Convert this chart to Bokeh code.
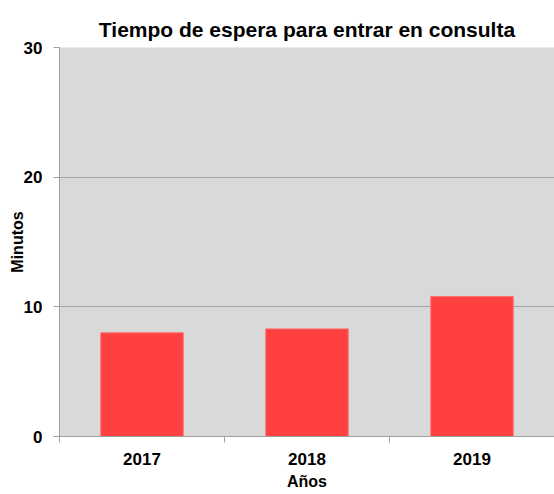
from bokeh.plotting import figure
from bokeh.models import FixedTicker, Range1d, ColumnDataSource
from bokeh.embed import file_html
from bokeh.resources import INLINE

years = ["2017", "2018", "2019"]
minutes = [8.0, 8.3, 10.8]
y_ticks = [0, 10, 20, 30]

xpos = [i + 0.5 for i in range(len(years))]
src = ColumnDataSource(dict(x=xpos, top=minutes))

FONT = "Liberation Sans"

p = figure(width=554, height=494, output_backend="svg", toolbar_location=None,
           x_range=Range1d(0, len(years)), y_range=Range1d(0, 30),
           title="Tiempo de espera para entrar en consulta",
           min_border_left=59, min_border_right=0, min_border_top=47, min_border_bottom=58)
p.outline_line_color = None
p.background_fill_color = "#D9D9D9"
p.border_fill_color = "white"

p.title.text_font = FONT
p.title.text_font_size = "21px"
p.title.text_font_style = "bold"
p.title.align = "center"
p.title.text_color = "black"
p.title.standoff = 14

p.vbar(x="x", top="top", width=0.5, source=src, fill_color="#FF4040", line_color="#FF7070", line_width=1)

# y axis
p.yaxis.ticker = FixedTicker(ticks=y_ticks)
p.yaxis.axis_label = "Minutos"
p.yaxis.axis_label_text_font = FONT
p.yaxis.axis_label_text_font_style = "bold"
p.yaxis.axis_label_text_font_size = "16px"
p.yaxis.axis_label_text_color = "black"
p.yaxis.axis_label_standoff = -5
p.yaxis.major_label_text_font = FONT
p.yaxis.major_label_text_font_size = "17px"
p.yaxis.major_label_text_font_style = "bold"
p.yaxis.major_label_text_color = "black"
p.yaxis.major_label_standoff = 11
p.yaxis.major_tick_out = 6
p.yaxis.major_tick_in = 0
p.yaxis.minor_tick_line_color = None
p.yaxis.axis_line_color = "#A0A0A0"
p.yaxis.major_tick_line_color = "#A0A0A0"

# x axis
p.xaxis.ticker = FixedTicker(ticks=xpos, minor_ticks=list(range(len(years) + 1)))
p.xaxis.major_label_overrides = {x: y for x, y in zip(xpos, years)}
p.xaxis.axis_label = "Años"
p.xaxis.axis_label_text_font = FONT
p.xaxis.axis_label_text_font_style = "bold"
p.xaxis.axis_label_text_font_size = "16px"
p.xaxis.axis_label_text_color = "black"
p.xaxis.axis_label_standoff = 5
p.xaxis.major_label_text_font = FONT
p.xaxis.major_label_text_font_size = "17px"
p.xaxis.major_label_text_font_style = "bold"
p.xaxis.major_label_text_color = "black"
p.xaxis.major_label_standoff = 10
p.xaxis.major_tick_out = 0
p.xaxis.major_tick_in = 0
p.xaxis.minor_tick_out = 6
p.xaxis.minor_tick_in = 0
p.xaxis.minor_tick_line_color = "#A0A0A0"
p.xaxis.axis_line_color = "#A0A0A0"

p.xgrid.grid_line_color = None
p.ygrid.ticker = FixedTicker(ticks=y_ticks)
p.ygrid.grid_line_color = "#A6A6A6"
p.ygrid.grid_line_width = 1

open("out.html", "w").write(file_html(p, INLINE))
